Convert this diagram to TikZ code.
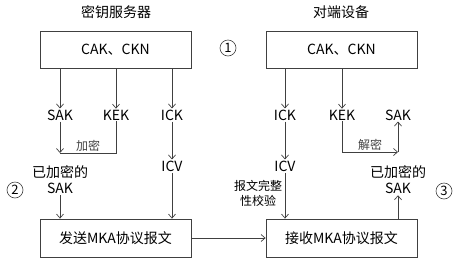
\documentclass[tikz,border=0pt]{standalone}
\usepackage{fontspec}
\setmainfont{Noto Sans CJK SC}
\usetikzlibrary{arrows.meta,positioning,calc}
\definecolor{mkaGray}{RGB}{64,64,64}

\begin{document}
\begin{tikzpicture}[x=1pt, y=-1pt,
  box/.style={draw=mkaGray, line width=0.8pt, minimum width=151pt,
              minimum height=37pt, inner sep=0pt, font=\fontsize{14}{16}\selectfont},
  key/.style={inner sep=1pt, align=center, font=\fontsize{14}{16}\selectfont},
  tag/.style={inner sep=1pt, align=center, font=\fontsize{12}{15}\selectfont},
  num/.style={draw=mkaGray, circle, line width=0.6pt, minimum size=16pt,
              inner sep=0pt, font=\fontsize{13}{13}\selectfont},
  arr/.style={-{Straight Barb[length=4pt,width=7pt]}, line width=0.7pt, mkaGray},
  ln/.style={line width=0.7pt, mkaGray}
]
  \useasboundingbox (0,0) rectangle (458,258);

  % key server side
  \node[key] (srv) at (116,12) {密钥服务器};
  \node[box] (cakA) at (115.5,49.5) {CAK、CKN};
  \node[key] (sakA) at (60,115)  {SAK};
  \node[key] (kekA) at (116,115) {KEK};
  \node[key] (ickA) at (172,115) {ICK};
  \coordinate (jA) at (60,153);
  \node[key] (encA) at (60,180) {已加密的\\SAK};
  \node[key] (icvA) at (172,166) {ICV};
  \node[box, minimum height=38pt] (send) at (115.5,238) {发送MKA协议报文};

  % peer side
  \node[key] (peer) at (341,12) {对端设备};
  \node[box] (cakB) at (341.5,49.5) {CAK、CKN};
  \node[key] (ickB) at (285,115) {ICK};
  \node[key] (kekB) at (342,115) {KEK};
  \node[key] (sakB) at (398,115) {SAK};
  \coordinate (jB) at (398,152);
  \node[key] (encB) at (398,180) {已加密的\\SAK};
  \node[key] (icvB) at (285,166) {ICV};
  \node[tag] (chk) at (258,193) {报文完整\\性校验};
  \node[box, minimum height=38pt] (recv) at (341.5,238) {接收MKA协议报文};

  % step numbers
  \node[num] (n1) at (228,48)  {1};
  \node[num] (n2) at (15,190)  {2};
  \node[num] (n3) at (444,191) {3};

  % encrypt
  \draw[arr] (cakA.south -| sakA) -- (sakA.north);
  \draw[arr] (cakA.south -| kekA) -- (kekA.north);
  \draw[arr] (cakA.south -| ickA) -- (ickA.north);
  \draw[arr] (sakA.south) -- (jA);
  \draw[ln] (kekA.south) |- node[tag, above, pos=0.75] (enc) {加密} (jA);
  \draw[arr] (encA.south) -- (encA.south |- send.north);
  \draw[arr] (ickA.south) -- (icvA.north);
  \draw[arr] (icvA.south) -- (icvA.south |- send.north);
  \draw[arr] (send.east) -- (recv.west);

  % decrypt
  \draw[arr] (cakB.south -| ickB) -- (ickB.north);
  \draw[arr] (cakB.south -| kekB) -- (kekB.north);
  \draw[arr] (ickB.south) -- (icvB.north);
  \draw[arr] (icvB.south) -- (icvB.south |- recv.north);
  \draw[arr] (kekB.south) |- node[tag, above, pos=0.75] (dec) {解密} (jB);
  \draw[arr] (jB) -- (sakB.south);
  \draw[arr] (recv.north -| encB) -- (encB.south);
\end{tikzpicture}
\end{document}
